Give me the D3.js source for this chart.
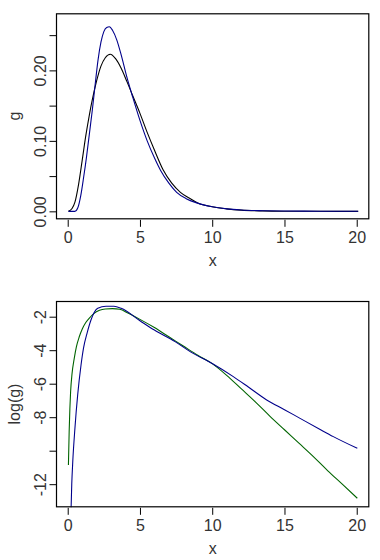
<!DOCTYPE html>
<html>
<head>
<meta charset="utf-8">
<script src="https://cdn.jsdelivr.net/npm/d3@7"></script>
<style>
  html, body { margin: 0; padding: 0; background: #fff; }
  svg { display: block; }
  text { font-family: "Liberation Sans", Arial, sans-serif; fill: #333; }
</style>
</head>
<body>
<div id="chart"></div>
<script>
// values
const xTicks = [0, 5, 10, 15, 20];

// top panel: g
const gTicks = [0, 0.05, 0.10, 0.15, 0.20, 0.25];
const gLabels = ["0.00", "", "0.10", "", "0.20", ""];

const blackX = [0.05, 0.3, 0.5, 0.75, 1.0, 1.25, 1.5, 1.7, 2.0, 2.3, 2.6, 2.95, 3.3, 3.7, 4.1, 4.5,
  5.0, 5.5, 6.0, 6.6, 7.2, 7.8, 8.4, 9.0, 10, 11, 12, 13.5, 15, 17, 20.1];
const blackG = [0, 0.004, 0.013, 0.038, 0.072, 0.107, 0.137, 0.158, 0.185, 0.206, 0.218, 0.223, 0.217, 0.203, 0.184, 0.164,
  0.139, 0.112, 0.087, 0.059, 0.040, 0.027, 0.019, 0.012, 0.0065, 0.0035, 0.0017, 0.0006, 0.0002, 0.00005, 0];

const blueX = [0.05, 0.5, 0.7, 0.9, 1.1, 1.3, 1.5, 1.7, 1.9, 2.1, 2.3, 2.5, 2.7, 2.88, 3.1, 3.4, 3.7, 4.1, 4.5,
  5.0, 5.5, 6.0, 6.43, 7.0, 7.54, 8.2, 8.93, 10, 11, 12, 13.5, 15, 17.5, 20.1];
const blueG = [0, 0, 0.005, 0.022, 0.048, 0.077, 0.110, 0.143, 0.180, 0.215, 0.240, 0.255, 0.261, 0.262, 0.257, 0.243, 0.222, 0.190, 0.162,
  0.129, 0.100, 0.076, 0.058, 0.040, 0.027, 0.018, 0.012, 0.0065, 0.0035, 0.0019, 0.0009, 0.0004, 0.0002, 0.00005];

// bottom panel: log(g)
const lTicks = [-12, -10, -8, -6, -4, -2];
const lLabels = ["-12", "", "-8", "-6", "-4", "-2"];

const greenX = [0.05, 0.1, 0.15, 0.2, 0.3, 0.45, 0.6, 0.8, 1.0, 1.25, 1.5, 1.8, 2.2, 2.6, 3.1, 3.6, 4.2,
  5.0, 6.0, 7.0, 8.0, 9.0, 10, 11, 12, 13, 14, 15, 16, 17, 18, 19, 20.04];
const greenL = [-10.85, -8.9, -7.5, -6.5, -5.4, -4.5, -3.8, -3.2, -2.75, -2.35, -2.08, -1.82, -1.62, -1.54, -1.52, -1.56, -1.8,
  -2.16, -2.65, -3.2, -3.75, -4.3, -4.8, -5.5, -6.3, -7.1, -7.95, -8.75, -9.55, -10.35, -11.2, -12.0, -12.84];

const blueLX = [0.2, 0.28, 0.35, 0.5, 0.69, 0.92, 1.1, 1.35, 1.61, 2.08, 2.65, 3.2, 3.7,
  5.0, 6.0, 7.43, 8.5, 10, 11.46, 12.5, 13.77, 15, 16.08, 17.5, 18.38, 20.04];
const blueL = [-14.5, -12.0, -10.66, -8.66, -6.67, -4.9, -3.85, -2.95, -2.2, -1.5, -1.38, -1.38, -1.5,
  -2.24, -2.8, -3.49, -4.1, -4.8, -5.58, -6.2, -6.97, -7.55, -8.07, -8.75, -9.16, -9.86];

const W = 380, H = 560;
const svg = d3.select("#chart").append("svg")
  .attr("width", W).attr("height", H)
  .style("background", "#fff");

const x = d3.scaleLinear().domain([-0.81, 20.87]).range([56, 369.3]);

function panel(id, top, bottom, yDomain, yTicks, yLabels, yTitle, titleY, series) {
  const y = d3.scaleLinear().domain(yDomain).range([bottom, top]);
  const g = svg.append("g");

  g.append("clipPath").attr("id", id)
    .append("rect")
    .attr("x", x.range()[0]).attr("y", top)
    .attr("width", x.range()[1] - x.range()[0]).attr("height", bottom - top);

  const line = d3.line()
    .x(d => x(d[0]))
    .y(d => y(d[1]))
    .curve(d3.curveMonotoneX);

  series.forEach(s => {
    g.append("path")
      .attr("clip-path", `url(#${id})`)
      .attr("d", line(d3.zip(s.xs, s.ys)))
      .attr("fill", "none")
      .attr("stroke", s.color)
      .attr("stroke-width", 1.1);
  });

  // box
  g.append("rect")
    .attr("x", x.range()[0] + 0.5).attr("y", top + 0.5)
    .attr("width", x.range()[1] - x.range()[0] - 1).attr("height", bottom - top - 1)
    .attr("fill", "none").attr("stroke", "#000").attr("stroke-width", 1.2);

  // x axis
  g.append("g")
    .attr("transform", `translate(0,${bottom + 0.5})`)
    .call(d3.axisBottom(x).tickValues(xTicks).tickSize(7).tickPadding(5).tickSizeOuter(0))
    .call(a => a.select(".domain").remove())
    .call(a => a.selectAll(".tick line").attr("stroke", "#000"))
    .call(a => a.selectAll("text")
      .attr("fill", "#333").style("font-size", "16px")
      .style("font-family", "'Liberation Sans', Arial, sans-serif"));

  // y axis (labels rotated like base R)
  const ya = g.append("g")
    .attr("transform", `translate(${x.range()[0] + 0.5},0)`)
    .call(d3.axisLeft(y).tickValues(yTicks).tickSize(7).tickSizeOuter(0).tickFormat((d, i) => yLabels[i]))
    .call(a => a.select(".domain").remove())
    .call(a => a.selectAll(".tick line").attr("stroke", "#000"));
  ya.selectAll(".tick text")
    .attr("x", null).attr("dy", null)
    .attr("transform", "translate(-16,0) rotate(-90)")
    .attr("text-anchor", "middle")
    .attr("dominant-baseline", "central")
    .attr("fill", "#333")
    .style("font-size", "16px")
    .style("font-family", "'Liberation Sans', Arial, sans-serif");

  // axis titles
  g.append("text")
    .attr("x", (x.range()[0] + x.range()[1]) / 2)
    .attr("y", bottom + 41)
    .attr("text-anchor", "middle")
    .attr("dominant-baseline", "central")
    .style("font-size", "16px")
    .text("x");

  g.append("text")
    .attr("transform", `translate(14,${titleY}) rotate(-90)`)
    .attr("text-anchor", "middle")
    .attr("dominant-baseline", "central")
    .style("font-size", "16px")
    .text(yTitle);
}

panel("clipTop", 13.3, 219.3, [-0.0113, 0.281], gTicks, gLabels, "g", 116, [
  { xs: blackX, ys: blackG, color: "#000000" },
  { xs: blueX, ys: blueG, color: "#00008B" }
]);

panel("clipBottom", 301, 507.3, [-13.38, -1.063], lTicks, lLabels, "log(g)", 404, [
  { xs: greenX, ys: greenL, color: "#006400" },
  { xs: blueLX, ys: blueL, color: "#00008B" }
]);
</script>
</body>
</html>
